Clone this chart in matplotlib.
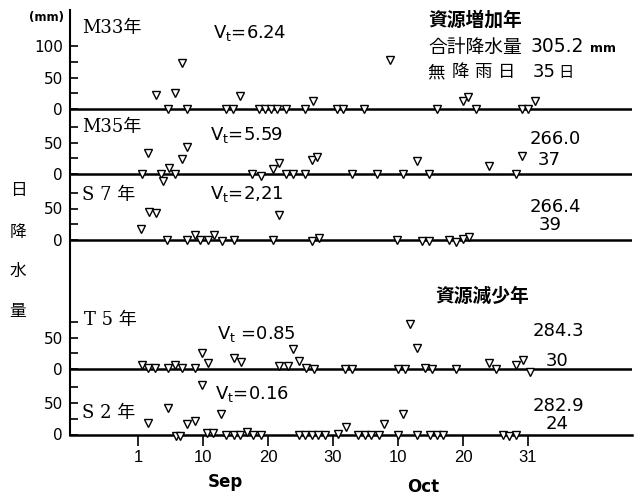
import matplotlib
matplotlib.use("Agg")
import matplotlib.pyplot as plt
from matplotlib.ticker import FixedLocator

W, H = 634, 495

# ---------------- data (x = chart position, 10 units per tick interval) ----------------
tick_pos = [0, 10, 20, 30, 40, 50, 60]
tick_labels = ["1", "10", "20", "30", "10", "20", "31"]

panel_names = ["M33年", "M35年", "S 7 年", "T 5 年", "S 2 年"]
vt_labels = ["6.24", "5.59", "2,21", "0.85", "0.16"]
total_rain = ["305.2", "266.0", "266.4", "284.3", "282.9"]
dry_days = ["35", "37", "39", "30", "24"]

m33_x = [2.8, 4.6, 5.7, 6.7, 7.6, 13.6, 14.6, 15.7, 18.6, 19.5, 20.5, 21.4, 22.7,
         25.7, 26.9, 30.6, 31.6, 34.7, 38.8, 46.0, 50.0, 50.8, 52.0, 59.0, 60.0, 61.0]
m33_v = [22, 0, 26, 73, 0, 0, 0, 21, 0, 0, 0, 0, 0,
         0, 13, 0, 0, 0, 78, 0, 13, 19, 0, 0, 0, 13]

m35_x = [0.6, 1.6, 3.5, 3.9, 4.7, 5.7, 6.7, 7.6, 17.6, 18.9, 20.7, 21.7, 22.8, 23.8,
         25.7, 26.8, 27.6, 32.9, 36.8, 40.8, 42.9, 44.8, 54.0, 58.2, 59.0]
m35_v = [0, 33, 0, -11, 9, 0, 24, 43, 0, -3, 8, 17, 0, 0,
         0, 22, 27, 0, 0, 0, 20, 0, 13, 0, 29]

s7_x = [0.4, 1.7, 2.7, 4.5, 7.6, 8.8, 9.5, 10.7, 11.7, 12.9, 14.8, 20.7, 21.7,
        26.8, 27.8, 39.8, 43.7, 44.8, 47.8, 48.9, 50.0, 51.0]
s7_v = [17, 45, 43, 0, 0, 8, 0, 0, 8, -2, 0, 0, 40,
        -1, 3, 0, -1, -1, 0, -3, 2, 5]

t5_x = [0.6, 1.6, 2.6, 4.6, 5.7, 6.7, 8.8, 9.9, 10.8, 14.8, 15.8, 21.7, 23.0, 23.8,
        24.8, 25.9, 27.1, 31.8, 32.9, 40.0, 41.1, 41.8, 43.0, 44.2, 45.2, 49.0, 54.0,
        55.1, 58.2, 59.2, 60.3]
t5_v = [6, 2, 2, 2, 6, 2, 1, 26, 9, 17, 11, 4, 4, 31,
        13, 1, 0, 0, 0, 0, 0, 71, 34, 1, 0, 0, 9,
        0, 6, 14, -4]

s2_x = [1.6, 4.6, 5.8, 6.5, 7.6, 8.8, 9.8, 10.6, 11.6, 12.8, 13.5, 14.7, 15.7, 16.8,
        17.7, 18.9, 24.7, 25.7, 26.7, 27.7, 28.8, 30.7, 32.0, 33.9, 34.9, 35.9, 37.0,
        37.8, 40.0, 40.8, 42.9, 44.9, 46.0, 47.0, 56.1, 57.1, 58.2]
s2_v = [18, 42, -2, -2, 17, 21, 79, 2, 2, 33, 0, 0, 0, 4,
        0, 0, 0, 0, 0, 0, 0, 1, 12, 0, 0, 0, 0,
        16, 0, 33, 0, 0, -1, -1, -1, -2, -1]

panel_x = [m33_x, m35_x, s7_x, t5_x, s2_x]
panel_v = [m33_v, m35_v, s7_v, t5_v, s2_v]

# ---------------- layout ----------------
PXMM = 0.63                     # pixels per mm
base_px = [109, 174, 240, 369, 434.5]   # baseline pixel rows of the panels
bottom_px, top_px, left_px, right_px = 434.5, 10, 70, 632
offsets = [(bottom_px - b) / PXMM for b in base_px]

fig = plt.figure(figsize=(W / 100, H / 100), dpi=100)
fig.patch.set_facecolor("white")
ax = fig.add_axes([left_px / W, (H - bottom_px) / H,
                   (right_px - left_px) / W, (bottom_px - top_px) / H])
x0 = (left_px - 138) / 6.5
x1 = (right_px - 138) / 6.5
ax.set_xlim(x0, x1)
ax.set_ylim(0, (bottom_px - top_px) / PXMM)

for s in ["top", "right"]:
    ax.spines[s].set_visible(False)
ax.spines["left"].set_linewidth(1.5)
ax.spines["bottom"].set_linewidth(1.8)

for off in offsets[:-1]:
    ax.axhline(off, color="black", lw=1.8, zorder=2)

for xs, vs, off in zip(panel_x, panel_v, offsets):
    ax.plot(xs, [v + off for v in vs], linestyle="none", marker="v", ms=5.5,
            mfc="white", mec="black", mew=1.0, zorder=3, clip_on=False)

# y ticks
major, labels, minor = [], [], []
for i, off in enumerate(offsets):
    vals = [0, 50, 100] if i == 0 else [0, 50]
    for v in vals:
        major.append(off + v)
        labels.append(str(v))
    minor += [off + 25, off + 75]
ax.yaxis.set_major_locator(FixedLocator(major))
ax.set_yticklabels(labels)
ax.yaxis.set_minor_locator(FixedLocator(minor))
ax.tick_params(axis="y", which="both", direction="in", length=6, width=1.2, pad=5,
               labelsize=11)
for t in ax.get_yticklabels():
    t.set_family("DejaVu Sans")

ax.set_xticks(tick_pos)
ax.set_xticklabels(tick_labels)
ax.tick_params(axis="x", direction="out", length=8, width=1.2, pad=3, labelsize=12)
for t in ax.get_xticklabels():
    t.set_family("Liberation Sans")

# ---------------- texts ----------------
JP = ["DejaVu Sans", "Noto Sans CJK JP"]
JPS = ["DejaVu Serif", "Noto Sans CJK JP"]


def txt(x, y, s, **kw):
    fig.text(x / W, 1 - y / H, s, **kw)


txt(46, 17, "(mm)", fontsize=8.5, ha="center", va="center", family="DejaVu Sans",
    weight="bold")

name_pos = [(82, 28), (82, 127), (82, 195), (84, 320), (82, 413)]
for (x, y), n in zip(name_pos, panel_names):
    txt(x, y, n, fontsize=13, ha="left", va="center", family=JPS)

vt_pos = [(213, 33), (210, 135), (210, 194), (217, 334), (215, 394)]
for (x, y), v in zip(vt_pos, vt_labels):
    sp = " " if v in ("0.85",) else ""
    txt(x, y, "V$_\\mathregular{t}$" + sp + "=" + v, fontsize=13, ha="left",
        va="center", family="DejaVu Sans")

txt(428, 20, "資源増加年", fontsize=13.5, ha="left", va="center", family=JP,
    weight="bold")
txt(428, 47, "合計降水量", fontsize=13.5, ha="left", va="center", family=JP)
txt(531, 47, total_rain[0], fontsize=13.5, ha="left", va="center", family="DejaVu Sans")
txt(590, 48, "mm", fontsize=9, ha="left", va="center", family="DejaVu Sans",
    weight="bold")
for ch, x in zip(["無", "降", "雨", "日"], [436, 460, 483, 507]):
    txt(x, 72, ch, fontsize=12.5, ha="center", va="center", family=JP)
txt(533, 72, dry_days[0], fontsize=13, ha="left", va="center", family="DejaVu Sans")
txt(558, 72, "日", fontsize=11, ha="left", va="center", family=JP)

txt(435, 296, "資源減少年", fontsize=13.5, ha="left", va="center", family=JP,
    weight="bold")

tot_pos = [None, (555, 139), (555, 207), (558, 331), (558, 406)]
dry_pos = [None, (549, 160), (550, 225), (557, 361), (557, 424)]
for i in range(1, 5):
    txt(*tot_pos[i], total_rain[i], fontsize=13, ha="center", va="center",
        family="DejaVu Sans")
    txt(*dry_pos[i], dry_days[i], fontsize=13, ha="center", va="center",
        family="DejaVu Sans")

for ch, y in zip(["日", "降", "水", "量"], [190, 232, 271, 311]):
    txt(18, y, ch, fontsize=12, ha="center", va="center", family=JP)

txt(225, 482, "Sep", fontsize=12, ha="center", va="center", family="DejaVu Sans",
    weight="bold")
txt(423, 487, "Oct", fontsize=12, ha="center", va="center", family="DejaVu Sans",
    weight="bold")

fig.savefig("out.png", dpi=100, facecolor="white")
